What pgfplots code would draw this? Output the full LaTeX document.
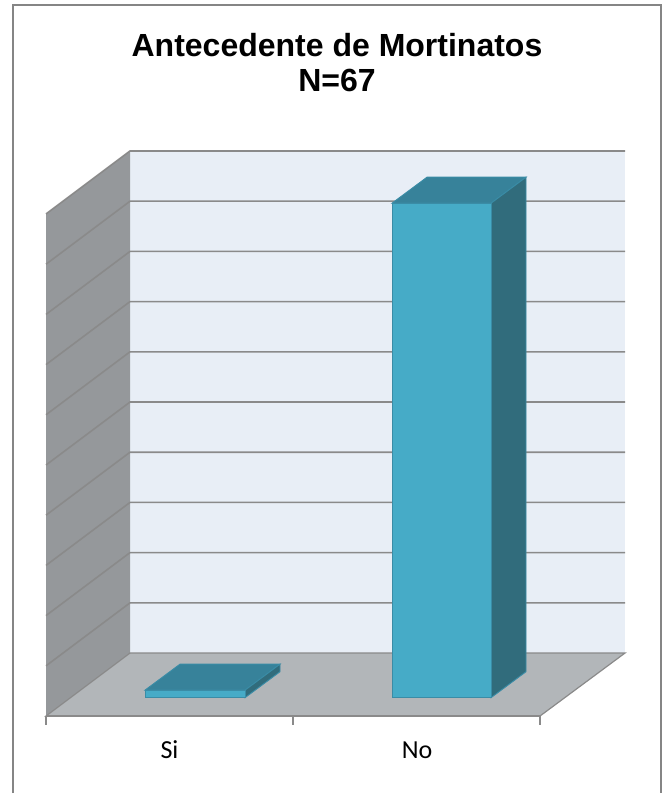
\documentclass[border=0pt]{standalone}
\usepackage{fontspec}
\setmainfont{Liberation Sans}
\newfontfamily\calibri{Carlito}
\usepackage{pgfplots}
\pgfplotsset{compat=1.18}
\definecolor{wallback}{HTML}{E8EEF6}
\definecolor{wallside}{HTML}{95989B}
\definecolor{floorc}{HTML}{B2B6B9}
\definecolor{gridc}{HTML}{8A8A8A}
\definecolor{barfront}{HTML}{46ABC7}
\definecolor{barside}{HTML}{316C7C}
\definecolor{bartop}{HTML}{37829A}
\definecolor{baredge}{HTML}{3A8CA6}
\definecolor{framec}{HTML}{858585}
\begin{document}
\begin{tikzpicture}
\begin{axis}[
  scale only axis, width=499.5pt, height=596.25pt,
  at={(0,0)}, anchor=south west,
  xmin=0, xmax=666, ymin=-19.382, ymax=138.98,
  axis line style={draw=none}, tick style={draw=none},
  ytick=\empty,
  xtick={169.5,417}, xticklabels={Si,No},
  xticklabel style={font=\calibri\fontsize{19.5}{21}\selectfont, anchor=base, yshift=27.5pt, inner sep=0pt, outer sep=0pt},
  unbounded coords=jump,
]
% frame
\addplot[draw=framec, line width=1.4pt] coordinates {(13,-19.0) (13,137.9) (660.7,137.9) (660.7,-19.0)};
% back wall, side wall, floor
\addplot[draw=none, fill=wallback] coordinates {(130,8.9) (130,108.9) (625,108.9) (625,8.9)} --cycle;
\addplot[draw=none, fill=wallside] coordinates {(46,-3.65) (46,96.35) (130,108.9) (130,8.9)} --cycle;
\addplot[draw=gridc, line width=0.9pt, fill=floorc] coordinates {(46,-3.65) (130,8.9) (625,8.9) (540,-3.65)} --cycle;
% grid lines, value 10 to 100
\addplot[draw=gridc, line width=1.2pt] table {
x y
46 6.35
130 18.9
625 18.9
nan nan
46 16.35
130 28.9
625 28.9
nan nan
46 26.35
130 38.9
625 38.9
nan nan
46 36.35
130 48.9
625 48.9
nan nan
46 46.35
130 58.9
625 58.9
nan nan
46 56.35
130 68.9
625 68.9
nan nan
46 66.35
130 78.9
625 78.9
nan nan
46 76.35
130 88.9
625 88.9
nan nan
46 86.35
130 98.9
625 98.9
nan nan
46 96.35
130 108.9
625 108.9
};
% x axis ticks
\addplot[draw=gridc, line width=1.2pt] table {
x y
46 -3.65
46 -5.45
nan nan
293 -3.65
293 -5.45
nan nan
540 -3.65
540 -5.45
nan nan
46 -3.65
540 -3.65
};
% bar Si = 1.5
\addplot[draw=baredge, line width=0.7pt, fill=bartop] coordinates {(145,1.5) (180,6.68) (280,6.68) (245,1.5)} --cycle;
\addplot[draw=baredge, line width=0.7pt, fill=barside] coordinates {(245,0) (280,5.18) (280,6.68) (245,1.5)} --cycle;
\addplot[draw=baredge, line width=0.7pt, fill=barfront] coordinates {(145,0) (145,1.5) (245,1.5) (245,0)} --cycle;
% bar No = 98.5
\addplot[draw=baredge, line width=0.7pt, fill=bartop] coordinates {(392,98.5) (427,103.68) (526,103.68) (491,98.5)} --cycle;
\addplot[draw=baredge, line width=0.7pt, fill=barside] coordinates {(491,0) (526,5.18) (526,103.68) (491,98.5)} --cycle;
\addplot[draw=baredge, line width=0.7pt, fill=barfront] coordinates {(392,0) (392,98.5) (491,98.5) (491,0)} --cycle;
% title
\node[font=\bfseries\fontsize{24}{27}\selectfont, align=center, anchor=base] at (axis cs:337,127.8) {Antecedente de Mortinatos};
\node[font=\bfseries\fontsize{24}{27}\selectfont, align=center, anchor=base] at (axis cs:337,120.7) {N=67};
\end{axis}
\end{tikzpicture}
\end{document}
